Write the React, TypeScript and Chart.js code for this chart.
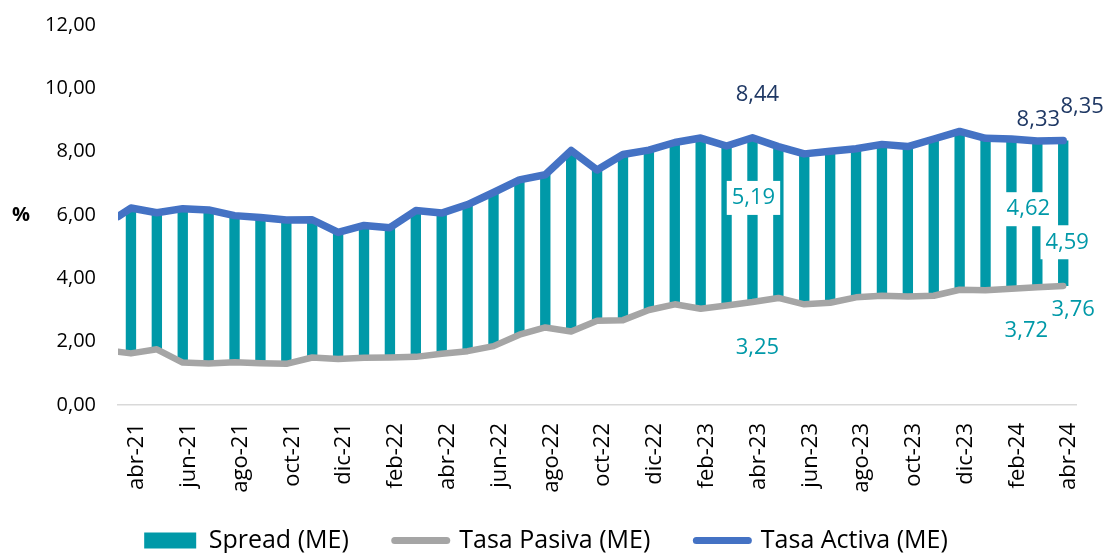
import { useEffect, useRef } from 'react';
import { Chart, registerables } from 'chart.js';

Chart.register(...registerables);

// ---- data ----
const months = [
  'abr-21', 'may-21', 'jun-21', 'jul-21', 'ago-21', 'sep-21', 'oct-21', 'nov-21', 'dic-21',
  'ene-22', 'feb-22', 'mar-22', 'abr-22', 'may-22', 'jun-22', 'jul-22', 'ago-22', 'sep-22',
  'oct-22', 'nov-22', 'dic-22', 'ene-23', 'feb-23', 'mar-23', 'abr-23', 'may-23', 'jun-23',
  'jul-23', 'ago-23', 'sep-23', 'oct-23', 'nov-23', 'dic-23', 'ene-24', 'feb-24', 'mar-24',
  'abr-24',
];

const tasaActiva = [
  6.22, 6.07, 6.20, 6.16, 5.98, 5.92, 5.84, 5.85, 5.45, 5.67, 5.60, 6.14, 6.06, 6.33, 6.71,
  7.11, 7.27, 8.04, 7.42, 7.91, 8.05, 8.29, 8.43, 8.18, 8.44, 8.16, 7.93, 8.01, 8.09, 8.23,
  8.16, 8.40, 8.64, 8.42, 8.40, 8.334, 8.35,
];

const tasaPasiva = [
  1.63, 1.76, 1.34, 1.31, 1.35, 1.32, 1.30, 1.50, 1.45, 1.49, 1.50, 1.52, 1.62, 1.70, 1.86,
  2.22, 2.45, 2.32, 2.66, 2.68, 3.00, 3.18, 3.04, 3.14, 3.25, 3.38, 3.18, 3.23, 3.40, 3.45,
  3.43, 3.45, 3.64, 3.62, 3.67, 3.716, 3.76,
];

// value of each line where it enters the plot at the left edge (previous month)
const edgeActiva = 5.95;
const edgePasiva = 1.68;

const yTicks = [0, 2, 4, 6, 8, 10, 12];

// labelled points: month index
const labelledIdx = [24, 35, 36];

const legendNames = ['Spread (ME)', 'Tasa Pasiva (ME)', 'Tasa Activa (ME)'];

// ---- styles ----
const TEAL = '#0099A8';
const GRAY = '#A5A5A5';
const BLUE = '#4472C4';
const NAVY = '#1F3864';
const FONT = '"Open Sans", "Noto Sans", sans-serif';

const fmt = (v: number) => v.toFixed(2).replace('.', ',');

// label offsets (px) per labelled index: [activa, spread, pasiva]
const labelOffsets: Record<number, { dx: number; dy: number }[]> = {
  24: [{ dx: 5, dy: -43 }, { dx: 1, dy: -22 }, { dx: 5, dy: 46 }],
  35: [{ dx: 1, dy: -21 }, { dx: -9, dy: -5 }, { dx: -11, dy: 43 }],
  36: [{ dx: 19, dy: -34 }, { dx: 4, dy: 29 }, { dx: 10, dy: 24 }],
};

const labelPlugin = {
  id: 'valueLabels',
  afterDatasetsDraw(chart: any) {
    const { ctx } = chart;
    const x = chart.scales.x;
    const y = chart.scales.y;
    ctx.save();
    ctx.font = `22px ${FONT}`;
    ctx.textAlign = 'center';
    ctx.textBaseline = 'middle';
    for (const i of labelledIdx) {
      const a = tasaActiva[i];
      const p = tasaPasiva[i];
      const items = [
        { value: a, base: a, color: NAVY, box: false },
        { value: a - p, base: (a + p) / 2, color: TEAL, box: true },
        { value: p, base: p, color: TEAL, box: false },
      ];
      items.forEach((it, k) => {
        const off = labelOffsets[i][k];
        const px = x.getPixelForValue(i) + off.dx;
        const py = y.getPixelForValue(it.base) + off.dy;
        const text = fmt(it.value);
        if (it.box) {
          const w = ctx.measureText(text).width;
          ctx.fillStyle = '#ffffff';
          ctx.fillRect(px - w / 2 - 5, py - 17, w + 10, 34);
        }
        ctx.fillStyle = it.color;
        ctx.fillText(text, px, py);
      });
    }
    ctx.font = `bold 20px ${FONT}`;
    ctx.fillStyle = '#000000';
    ctx.fillText('%', 21, y.getPixelForValue(6));
    ctx.restore();
  },
};

export default function App() {
  const canvasRef = useRef<HTMLCanvasElement | null>(null);

  useEffect(() => {
    if (!canvasRef.current) return;
    const spreadData = months.map((_, i) => ({ x: i, y: [tasaPasiva[i], tasaActiva[i]] }));
    const pasivaData = [{ x: -0.5, y: edgePasiva }, ...months.map((_, i) => ({ x: i, y: tasaPasiva[i] }))];
    const activaData = [{ x: -0.5, y: edgeActiva }, ...months.map((_, i) => ({ x: i, y: tasaActiva[i] }))];

    const chart = new Chart(canvasRef.current, {
      type: 'bar',
      data: {
        datasets: [
          {
            type: 'bar',
            label: legendNames[0],
            data: spreadData as any,
            backgroundColor: TEAL,
            borderWidth: 0,
            barPercentage: 0.4,
            categoryPercentage: 1,
            order: 3,
          },
          {
            type: 'line',
            label: legendNames[1],
            data: pasivaData as any,
            borderColor: GRAY,
            backgroundColor: GRAY,
            borderWidth: 6.5,
            pointRadius: 0,
            tension: 0,
            borderJoinStyle: 'round',
            borderCapStyle: 'round',
            order: 2,
          },
          {
            type: 'line',
            label: legendNames[2],
            data: activaData as any,
            borderColor: BLUE,
            backgroundColor: BLUE,
            borderWidth: 7.5,
            pointRadius: 0,
            tension: 0,
            borderJoinStyle: 'round',
            borderCapStyle: 'round',
            order: 1,
          },
        ],
      },
      options: {
        animation: false,
        responsive: true,
        maintainAspectRatio: false,
        layout: { padding: { left: 12, right: 28, top: 25, bottom: -10 } },
        scales: {
          x: {
            type: 'linear',
            min: -0.5,
            max: 36.5,
            offset: false,
            grid: { display: false, drawTicks: false },
            border: { display: true, color: '#D9D9D9', width: 1.5 },
            ticks: {
              autoSkip: false,
              maxRotation: 90,
              minRotation: 90,
              padding: 18,
              labelOffset: 6,
              color: '#000000',
              font: { family: FONT, size: 22 },
              callback: (v: any) => months[v as number] ?? '',
            },
            afterBuildTicks: (s: any) => {
              s.ticks = months.map((_, i) => i).filter((i) => i % 2 === 0).map((v) => ({ value: v }));
            },
            afterFit: (s: any) => {
              s.height = 90;
            },
          },
          y: {
            min: 0,
            max: 12,
            grid: { display: false, drawTicks: false },
            border: { display: false },
            ticks: {
              stepSize: 2,
              padding: 22,
              color: '#000000',
              font: { family: FONT, size: 20 },
              callback: (v: any) => fmt(Number(v)),
            },
            afterBuildTicks: (s: any) => {
              s.ticks = yTicks.map((v) => ({ value: v }));
            },
            afterFit: (s: any) => {
              s.width = 106;
              s.paddingTop = 12;
              s.paddingBottom = 12;
            },
          },
        },
        plugins: {
          tooltip: { enabled: false },
          legend: {
            position: 'bottom',
            labels: {
              usePointStyle: true,
              pointStyleWidth: 52,
              boxHeight: 16,
              padding: 33,
              color: '#000000',
              font: { family: FONT, size: 25 },
              sort: (a: any, b: any) => a.datasetIndex - b.datasetIndex,
              generateLabels: () => [
                { text: legendNames[0] + '\u00A0\u00A0', fillStyle: TEAL, strokeStyle: TEAL, lineWidth: 0, pointStyle: 'rect', datasetIndex: 0, hidden: false },
                { text: legendNames[1] + '\u00A0\u00A0', fillStyle: GRAY, strokeStyle: GRAY, lineWidth: 7, lineCap: 'round', pointStyle: 'line', datasetIndex: 1, hidden: false },
                { text: legendNames[2], fillStyle: BLUE, strokeStyle: BLUE, lineWidth: 7, lineCap: 'round', pointStyle: 'line', datasetIndex: 2, hidden: false },
              ] as any,
            },
          },
        },
      } as any,
      plugins: [labelPlugin],
    });
    return () => chart.destroy();
  }, []);

  return (
    <div style={{ position: 'fixed', left: 0, top: 0, width: 1108, height: 553, background: '#fff' }}>
      <canvas ref={canvasRef} />
    </div>
  );
}
